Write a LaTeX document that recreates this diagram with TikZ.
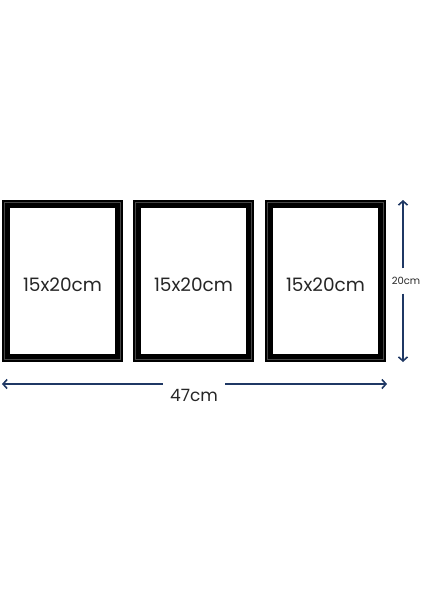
\documentclass[tikz,border=0pt]{standalone}
\usepackage{fontspec}
\setmainfont{Poppins}
\usepackage{xcolor}
\usepackage{tikz}
\usetikzlibrary{arrows.meta,positioning}
\definecolor{navy}{HTML}{1F3864}

\begin{document}
\begin{tikzpicture}[
    x=1pt, y=-1pt,
    frame/.style={rectangle, draw=black, fill=white, line width=8pt, minimum width=113pt, minimum height=154pt, text height=21pt, font=\fontsize{18.5}{22}\selectfont, text=black!85},
    bevel/.style={draw=black!72, line width=0.4pt},
    dimarrow/.style={->, >={Straight Barb[length=4pt,width=9pt]}, draw=navy, line width=1.6pt},
    dimlabel/.style={inner sep=0pt, text=black!85}
]
    \useasboundingbox (0,0) rectangle (424,600);

    \node[frame] (left) at (62.5,281) {15x20cm};
    \node[frame, right=10pt of left] (middle) {15x20cm};
    \node[frame, right=11pt of middle] (right) {15x20cm};

    % thin inner edge of each frame
    \foreach \f in {left,middle,right}
        \draw[bevel] ([xshift=2.5pt,yshift=-2.5pt]\f.north west) rectangle ([xshift=-2.5pt,yshift=2.5pt]\f.south east);

    % height
    \coordinate (htop) at (403,200);
    \coordinate (hbot) at (403,362);
    \node[dimlabel, minimum height=25pt, font=\fontsize{10}{12}\selectfont] (height) at (406,281) {20cm};
    \draw[dimarrow] (height.north -| htop) -- (htop);
    \draw[dimarrow] (height.south -| hbot) -- (hbot);

    % width
    \coordinate (wleft) at (2,384);
    \coordinate (wright) at (387,384);
    \node[dimlabel, minimum width=62pt, font=\fontsize{17}{20}\selectfont] (width) at (194,395) {47cm};
    \draw[dimarrow] (width.west |- wleft) -- (wleft);
    \draw[dimarrow] (width.east |- wright) -- (wright);
\end{tikzpicture}
\end{document}
